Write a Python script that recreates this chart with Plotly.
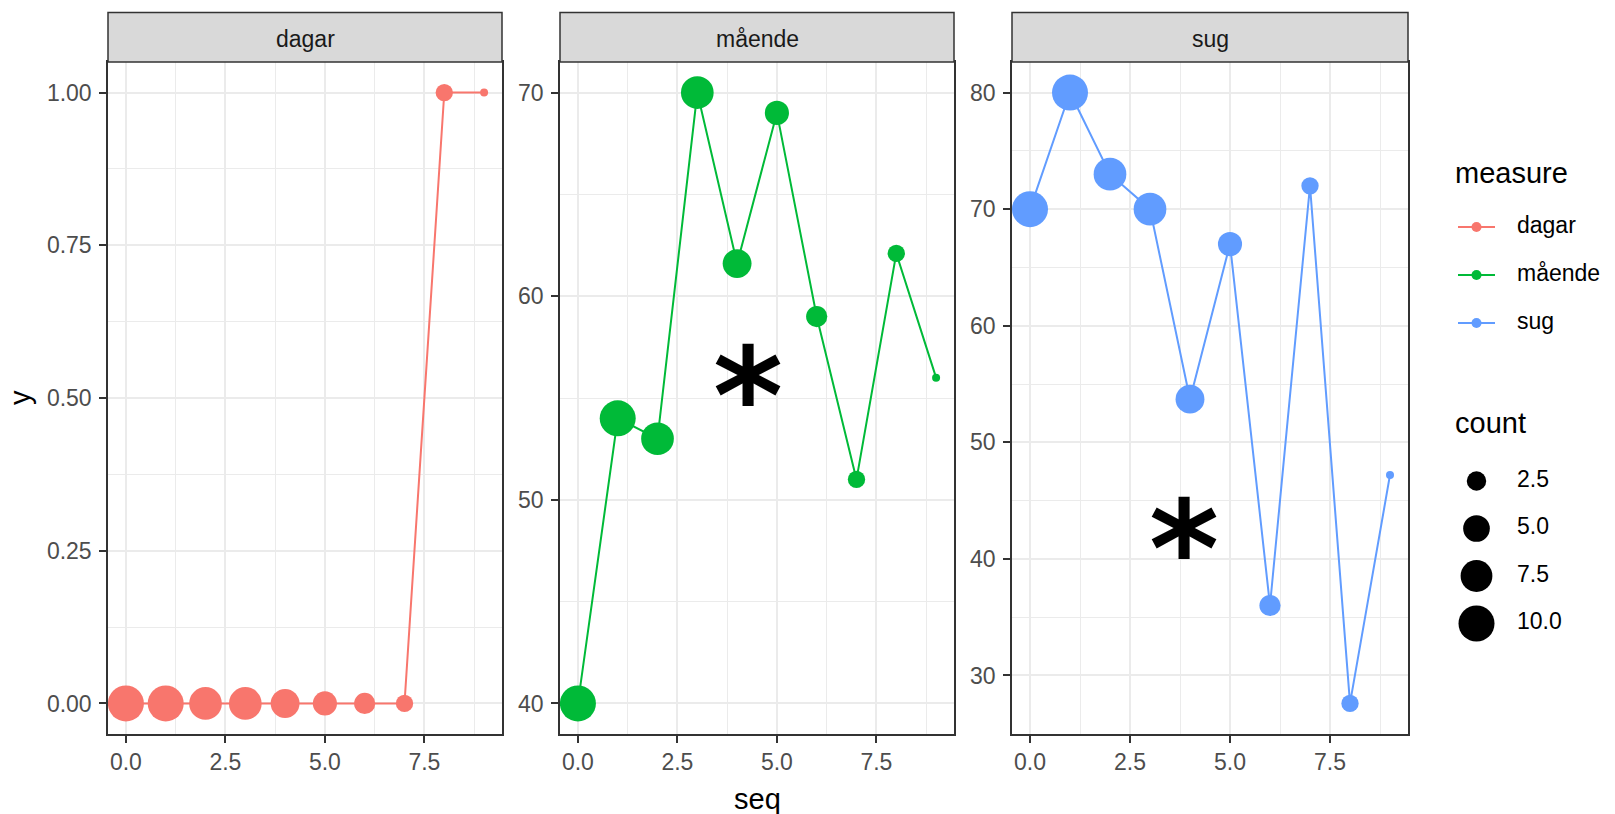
import numpy as np
import plotly.graph_objects as go

# ---------------- data ----------------
seq = [0, 1, 2, 3, 4, 5, 6, 7, 8, 9]
count = [10, 10, 8, 8, 6, 4, 3, 2, 2, 1]
measures = ["dagar", "mående", "sug"]
dagar = [0, 0, 0, 0, 0, 0, 0, 0, 1, 1]
maende = [40, 54, 53, 70, 61.6, 69, 59, 51, 62.1, 56]
sug = [70, 80, 73, 70, 53.7, 67, 36, 72, 27.6, 47.2]
colors = ["#F8766D", "#00BA38", "#619CFF"]
count_breaks = [2.5, 5.0, 7.5, 10.0]
x_ticks = [0, 2.5, 5, 7.5]
y_ticks = [[0, 0.25, 0.5, 0.75, 1.0], [40, 50, 60, 70], [30, 40, 50, 60, 70, 80]]
star_panel = [2, 3]
star_x = [4.28, 3.86]
star_y = [56.2, 42.7]

values = [dagar, maende, sug]

# ---------------- geometry ----------------
W, H = 1615, 814
panel_px = [(108, 502), (560, 954), (1012, 1408)]
plot_top, plot_bot, strip_top = 62, 734, 12.5
legend_left = 1420
FONT = "Liberation Sans, Arial, sans-serif"


def size_px(c, cmin=min(count), cmax=max(count)):
    c = np.asarray(c, dtype=float)
    return 8 + 28 * np.sqrt(np.clip((c - cmin) / (cmax - cmin), 0, None))


def expand(vals, mult=0.05):
    lo, hi = min(vals), max(vals)
    d = (hi - lo) * mult
    return [lo - d, hi + d]


fig = go.Figure()

axis_common = dict(
    showline=True, mirror=True, linecolor="#333333", linewidth=1.5,
    ticks="outside", ticklen=7, tickwidth=1.5, tickcolor="#333333",
    showgrid=True, gridcolor="#EBEBEB", gridwidth=1.8, zeroline=False,
    tickfont=dict(size=23, color="#4D4D4D", family=FONT),
)

layout = dict(width=W, height=H, margin=dict(l=0, r=0, t=0, b=0),
              plot_bgcolor="white", paper_bgcolor="white",
              font=dict(family=FONT, color="black"), showlegend=False)
shapes, annotations = [], []

for i, (m, vals, col) in enumerate(zip(measures, values, colors)):
    k = i + 1
    xa, ya = f"x{k}" if k > 1 else "x", f"y{k}" if k > 1 else "y"
    l, r = panel_px[i]
    fig.add_trace(go.Scatter(
        x=seq, y=vals, mode="lines+markers", xaxis=xa, yaxis=ya,
        line=dict(color=col, width=2),
        marker=dict(color=col, size=size_px(count), line=dict(width=0), opacity=1),
        name=m, customdata=count,
        hovertemplate="seq=%{x}<br>y=%{y}<br>count=%{customdata}<extra>" + m + "</extra>",
    ))
    ymaj = y_ticks[i]
    ystep = ymaj[1] - ymaj[0]
    layout[f"xaxis{k}" if k > 1 else "xaxis"] = dict(
        axis_common, domain=[l / W, r / W], anchor=ya, range=expand(seq),
        tickvals=x_ticks, ticktext=[f"{v:.1f}" for v in x_ticks],
        minor=dict(dtick=1.25, tick0=0, showgrid=True, gridcolor="#EBEBEB", gridwidth=1.3),
    )
    layout[f"yaxis{k}" if k > 1 else "yaxis"] = dict(
        axis_common, domain=[1 - plot_bot / H, 1 - plot_top / H], anchor=xa,
        range=expand(vals), tickvals=ymaj, ticklabelstandoff=3,
        ticktext=[(f"{v:.2f}" if i == 0 else f"{v:g}") for v in ymaj],
        minor=dict(dtick=ystep / 2, tick0=ymaj[0], showgrid=True, gridcolor="#EBEBEB", gridwidth=1.3),
    )
    shapes.append(dict(type="rect", xref="paper", yref="paper",
                       x0=l / W, x1=r / W, y0=1 - plot_top / H, y1=1 - strip_top / H,
                       fillcolor="#D9D9D9", line=dict(color="#333333", width=1.5)))
    annotations.append(dict(text=m, xref="paper", yref="paper", x=(l + r) / 2 / W,
                            y=1 - 39 / H, showarrow=False,
                            xanchor="center", yanchor="middle",
                            font=dict(size=23, color="#1A1A1A", family=FONT)))

# asterisks
for p, sx, sy in zip(star_panel, star_x, star_y):
    annotations.append(dict(text="<b>*</b>", xref=f"x{p}", yref=f"y{p}", x=sx, y=sy,
                            showarrow=False, xanchor="center", yanchor="middle",
                            yshift=-23, font=dict(size=134, color="black", family="DejaVu Sans")))

# axis titles
annotations.append(dict(text="y", xref="paper", yref="paper", x=20 / W, y=1 - 398 / H,
                        textangle=-90, showarrow=False, xanchor="center", yanchor="middle",
                        font=dict(size=29, color="black", family=FONT)))
annotations.append(dict(text="seq", xref="paper", yref="paper", x=757 / W, y=1 - 799 / H,
                        showarrow=False, xanchor="center", yanchor="middle",
                        font=dict(size=29, color="black", family=FONT)))

# ---------------- legends, drawn on a hidden pixel-unit helper axis ----------------
layout["xaxis4"] = dict(domain=[legend_left / W, 1], range=[legend_left, W], visible=False,
                        anchor="y4", fixedrange=True)
layout["yaxis4"] = dict(domain=[0, 1], range=[H, 0], visible=False, anchor="x4", fixedrange=True)
helper = dict(xaxis="x4", yaxis="y4", showlegend=False, hoverinfo="skip")

# colour legend: measure
key_x0, key_x1, text_x = 1458, 1495, 1517
m_y0, m_step = 227, 48
m_ys = [m_y0 + j * m_step for j in range(len(measures))]
for m, col, yy in zip(measures, colors, m_ys):
    fig.add_trace(go.Scatter(x=[key_x0, key_x1], y=[yy, yy], mode="lines",
                             line=dict(color=col, width=2), **helper))
    fig.add_trace(go.Scatter(x=[(key_x0 + key_x1) / 2], y=[yy], mode="markers",
                             marker=dict(color=col, size=10, line=dict(width=0), opacity=1),
                             **helper))
fig.add_trace(go.Scatter(x=[text_x] * len(measures), y=m_ys, mode="text", text=measures,
                         textposition="middle right",
                         textfont=dict(size=23, color="black", family=FONT), **helper))
annotations.append(dict(text="measure", xref="paper", yref="paper", x=1453 / W, y=1 - 173 / H,
                        showarrow=False, xanchor="left", yanchor="middle",
                        font=dict(size=29, color="black", family=FONT)))

# size legend: count
b0_px, step_px = 481, 47.5
bstep = count_breaks[1] - count_breaks[0]
c_ys = [b0_px + (b - count_breaks[0]) / bstep * step_px for b in count_breaks]
fig.add_trace(go.Scatter(x=[(key_x0 + key_x1) / 2] * len(count_breaks), y=c_ys, mode="markers",
                         marker=dict(color="black", size=size_px(count_breaks),
                                     line=dict(width=0), opacity=1), **helper))
fig.add_trace(go.Scatter(x=[text_x] * len(count_breaks), y=c_ys, mode="text",
                         text=[f"{b:.1f}" for b in count_breaks], textposition="middle right",
                         textfont=dict(size=23, color="black", family=FONT), **helper))
annotations.append(dict(text="count", xref="paper", yref="paper", x=1453 / W, y=1 - 423 / H,
                        showarrow=False, xanchor="left", yanchor="middle",
                        font=dict(size=29, color="black", family=FONT)))

layout["shapes"] = shapes
layout["annotations"] = annotations
fig.update_layout(**layout)

fig.write_html("out.html", post_script="document.body.style.margin='0';",
               config={"displayModeBar": False})
